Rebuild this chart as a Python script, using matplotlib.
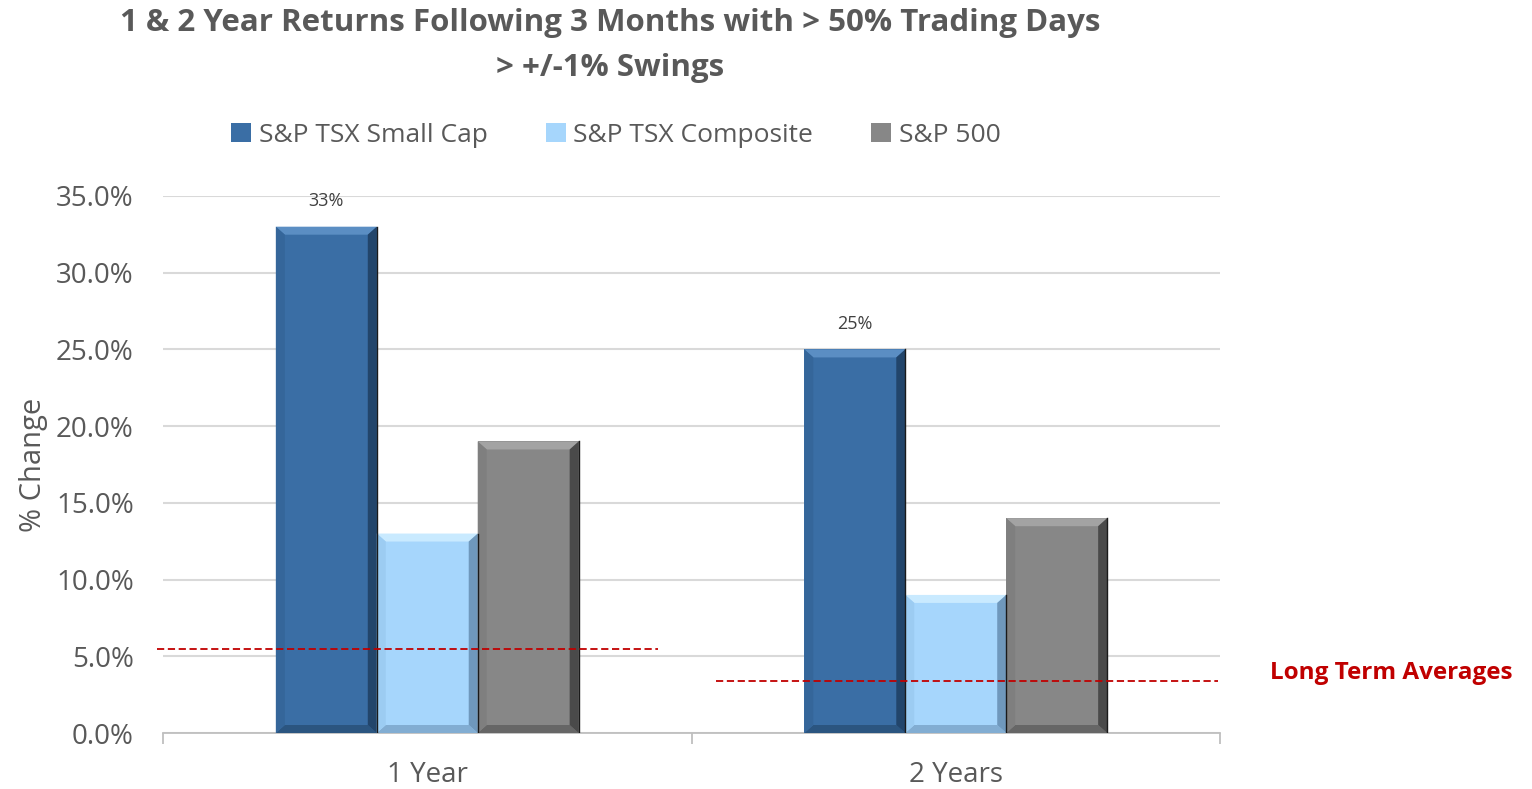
import matplotlib
matplotlib.use("Agg")
import matplotlib.pyplot as plt
from matplotlib.patches import Polygon
import numpy as np

categories = ["1 Year", "2 Years"]
series_names = ["S&P TSX Small Cap", "S&P TSX Composite", "S&P 500"]
small_cap = [33, 25]
composite = [13, 9]
sp500 = [19, 14]
long_term_avg = [5.5, 3.4]
yticks = [0, 5, 10, 15, 20, 25, 30, 35]

plt.rcParams['font.family'] = ['Open Sans', 'DejaVu Sans']

fig = plt.figure(figsize=(15.32, 7.89), dpi=100)
ax = fig.add_axes([163/1532, 1-733/789, (1220-163)/1532, (733-196)/789])

base_colors = ["#3A6EA5", "#A6D6FC", "#878787"]
top_colors = ["#5B8EC3", "#C9EAFF", "#A3A3A3"]
left_colors = ["#35669A", "#9CCCF2", "#7F7F7F"]
right_colors = ["#22456B", "#6F98BC", "#4A4A4A"]
bottom_colors = ["#2B5580", "#82ADD2", "#666666"]

width = 0.191
offsets = [-width, 0, width]
x = np.arange(len(categories))
all_vals = [small_cap, composite, sp500]

ax.set_xlim(-0.5, 1.5)
ax.set_ylim(0, 35)

# pixel -> data conversions
px_x = 1.0 / ((1220-163)/2.0)
px_y = 35.0 / (733-196)
bev_x = 9 * px_x
bev_y = 8 * px_y

for i, vals in enumerate(all_vals):
    bars = ax.bar(x + offsets[i], vals, width, color=base_colors[i], zorder=3,
                  edgecolor="none", label=series_names[i])
    for b in bars:
        x0 = b.get_x(); x1 = x0 + b.get_width(); h = b.get_height()
        bx = bev_x; by = bev_y
        ax.add_patch(Polygon([(x0, h), (x1, h), (x1-bx, h-by), (x0+bx, h-by)],
                             closed=True, color=top_colors[i], zorder=4, lw=0))
        ax.add_patch(Polygon([(x0, 0), (x1, 0), (x1-bx, by), (x0+bx, by)],
                             closed=True, color=bottom_colors[i], zorder=4, lw=0))
        ax.add_patch(Polygon([(x0, 0), (x0+bx, by), (x0+bx, h-by), (x0, h)],
                             closed=True, color=left_colors[i], zorder=4, lw=0))
        ax.add_patch(Polygon([(x1, 0), (x1-bx, by), (x1-bx, h-by), (x1, h)],
                             closed=True, color=right_colors[i], zorder=4, lw=0))
        ax.plot([x1, x1], [0, h], color="#1A1A1A", lw=1.0, zorder=5)

# data labels on small cap only
for xi, v in zip(x, small_cap):
    ax.annotate(f"{v}%", (xi + offsets[0], v), xytext=(0, 12), textcoords="offset points",
                ha="center", va="bottom", fontsize=13, color="#404040")

# long-term average dashed lines
ax.plot([-0.511, 0.437], [long_term_avg[0]]*2, ls=(0, (4, 2)), color="#C00000", lw=1.3, zorder=6, clip_on=False)
ax.plot([0.546, 1.496], [long_term_avg[1]]*2, ls=(0, (4, 2)), color="#C00000", lw=1.3, zorder=6, clip_on=False)

ax.set_yticks(yticks)
ax.set_yticklabels([f"{t:.1f}%" for t in yticks])
ax.yaxis.grid(True, color="#D9D9D9", lw=1.5, zorder=0)
ax.set_axisbelow(True)
ax.tick_params(axis="y", length=0, labelsize=20, labelcolor="#595959", pad=21)
ax.set_xticks([-0.5, 0.5, 1.5])
ax.set_xticklabels([])
ax.set_xticks(x, minor=True)
ax.set_xticklabels(categories, minor=True)
ax.tick_params(axis="x", which="major", length=8, color="#BFBFBF", width=1.3)
ax.tick_params(axis="x", which="minor", length=0, labelsize=20, labelcolor="#595959", pad=20)
for s in ["top", "right", "left"]:
    ax.spines[s].set_visible(False)
ax.spines["bottom"].set_color("#BFBFBF")
ax.spines["bottom"].set_linewidth(1.3)

ax.set_ylabel("% Change", fontsize=21, color="#595959", labelpad=6)

fig.text(610/1532, 1-23/789, "1 & 2 Year Returns Following 3 Months with > 50% Trading Days",
         ha="center", va="center", fontsize=22.5, fontweight="bold", color="#595959")
fig.text(610/1532, 1-68/789, "> +/-1% Swings",
         ha="center", va="center", fontsize=22.5, fontweight="bold", color="#595959")

leg = fig.legend(loc="center", bbox_to_anchor=(616/1532, 1-135/789), ncol=3, frameon=False,
                 fontsize=19, labelcolor="#595959", handlelength=0.75, handleheight=0.75,
                 handletextpad=0.3, columnspacing=2.2)

fig.text(1270/1532, 1-673/789, "Long Term Averages", ha="left", va="center",
         fontsize=17.5, fontweight="bold", color="#C00000")

fig.savefig("out.png", dpi=100)
